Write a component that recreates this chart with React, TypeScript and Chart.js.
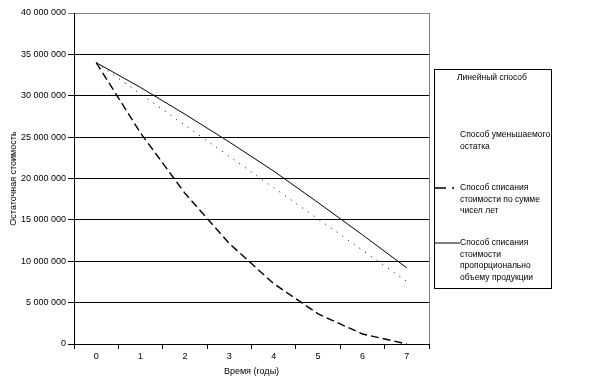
import React, { useEffect, useRef } from "react";
import { Chart, registerables } from "chart.js";

Chart.register(...registerables);

const years = ["0", "1", "2", "3", "4", "5", "6", "7"];
const linearValues = [34000000, 30220000, 26440000, 22670000, 18890000, 15110000, 11330000, 7560000];
const sumOfYearsValues = [34000000, 25500000, 18210000, 12140000, 7290000, 3640000, 1210000, 0];
const productionValues = [34000000, 31000000, 27770000, 24410000, 20900000, 17090000, 13190000, 9200000];
const legendNames = [
  ["Линейный способ"],
  ["Способ уменьшаемого", "остатка"],
  ["Способ списания", "стоимости по сумме", "чисел лет"],
  ["Способ списания", "стоимости", "пропорционально", "объему продукции"],
];
const yTitle = "Остаточная стоимость";
const xTitle = "Время (годы)";

const FONT = "'Liberation Sans', Arial, sans-serif";

const borderPlugin = {
  id: "plotBorder",
  beforeDatasetsDraw(chart: any) {
    const { ctx, chartArea } = chart;
    ctx.save();
    ctx.strokeStyle = "#808080";
    ctx.lineWidth = 1;
    ctx.beginPath();
    ctx.moveTo(Math.round(chartArea.right) + 0.5, chartArea.top);
    ctx.lineTo(Math.round(chartArea.right) + 0.5, chartArea.bottom);
    ctx.stroke();
    ctx.restore();
  },
};

export default function App() {
  const ref = useRef<HTMLCanvasElement | null>(null);

  useEffect(() => {
    if (!ref.current) return;
    const chart = new Chart(ref.current, {
      type: "line",
      data: {
        labels: years,
        datasets: [
          {
            label: legendNames[0].join(" "),
            data: linearValues,
            borderColor: "#000",
            borderWidth: 1,
            borderDash: [1, 6],
            pointRadius: 0,
            tension: 0,
          },
          {
            label: legendNames[2].join(" "),
            data: sumOfYearsValues,
            borderColor: "#000",
            borderWidth: 1.4,
            borderDash: [8, 4],
            pointRadius: 0,
            tension: 0,
          },
          {
            label: legendNames[3].join(" "),
            data: productionValues,
            borderColor: "#000",
            borderWidth: 1,
            pointRadius: 0,
            tension: 0,
          },
        ],
      },
      options: {
        animation: false,
        responsive: false,
        devicePixelRatio: 1,
        layout: { padding: { left: 0, top: 13, right: 184, bottom: 0 } },
        plugins: { legend: { display: false }, tooltip: { enabled: false } },
        scales: {
          x: {
            type: "category",
            offset: true,
            grid: {
              offset: true,
              drawOnChartArea: false,
              tickLength: 5,
              color: "#000",
            },
            border: { color: "#000", width: 1 },
            ticks: { color: "#000", padding: 2, font: { family: FONT, size: 9 } },
            title: {
              display: true,
              text: xTitle,
              color: "#000",
              font: { family: FONT, size: 9 },
              padding: { top: 0, bottom: 9 },
            },
            afterFit: (scale: any) => {
              scale.height = 42;
            },
          },
          y: {
            type: "linear",
            min: 0,
            max: 40000000,
            ticks: {
              stepSize: 5000000,
              color: "#000",
              padding: 2,
              font: { family: FONT, size: 9 },
              callback: (v: any) => String(v).replace(/\B(?=(\d{3})+(?!\d))/g, " "),
            },
            grid: {
              tickLength: 6,
              color: (c: any) => (c.tick && c.tick.value === 40000000 ? "#808080" : "#000"),
            },
            border: { color: "#000", width: 1 },
            title: {
              display: true,
              text: yTitle,
              color: "#000",
              font: { family: FONT, size: 9 },
              padding: { top: 8, bottom: 0 },
            },
            afterFit: (scale: any) => {
              scale.width = 74;
            },
          },
        },
      },
      plugins: [borderPlugin],
    });
    return () => chart.destroy();
  }, []);

  const entryTops = [72, 129, 182, 237];
  const textLeft = [22, 25, 25, 25];

  return (
    <div style={{ position: "fixed", left: 0, top: 0, width: 613, height: 386, background: "#fff" }}>
      <canvas ref={ref} width={613} height={386} style={{ position: "absolute", left: 0, top: 0 }} />
      <div
        style={{
          position: "absolute",
          left: 434,
          top: 69,
          width: 116,
          height: 218,
          border: "1px solid #000",
          fontFamily: FONT,
          fontSize: 8.5,
          lineHeight: "11.5px",
          color: "#000",
        }}
      >
        {legendNames.map((lines, i) => (
          <div
            key={i}
            style={{ position: "absolute", left: textLeft[i], top: entryTops[i] - 70, whiteSpace: "nowrap" }}
          >
            {lines.map((t, j) => (
              <div key={j}>{t}</div>
            ))}
          </div>
        ))}
        <svg
          width={26}
          height={4}
          style={{ position: "absolute", left: 0, top: 188 - 70 - 2 }}
        >
          <line x1={0} y1={2} x2={19} y2={2} stroke="#000" strokeWidth={1.3} strokeDasharray="11 6 2" />
        </svg>
        <svg
          width={26}
          height={4}
          style={{ position: "absolute", left: 0, top: 243 - 70 - 2 }}
        >
          <line x1={0} y1={2} x2={25} y2={2} stroke="#000" strokeWidth={1} />
        </svg>
      </div>
    </div>
  );
}
